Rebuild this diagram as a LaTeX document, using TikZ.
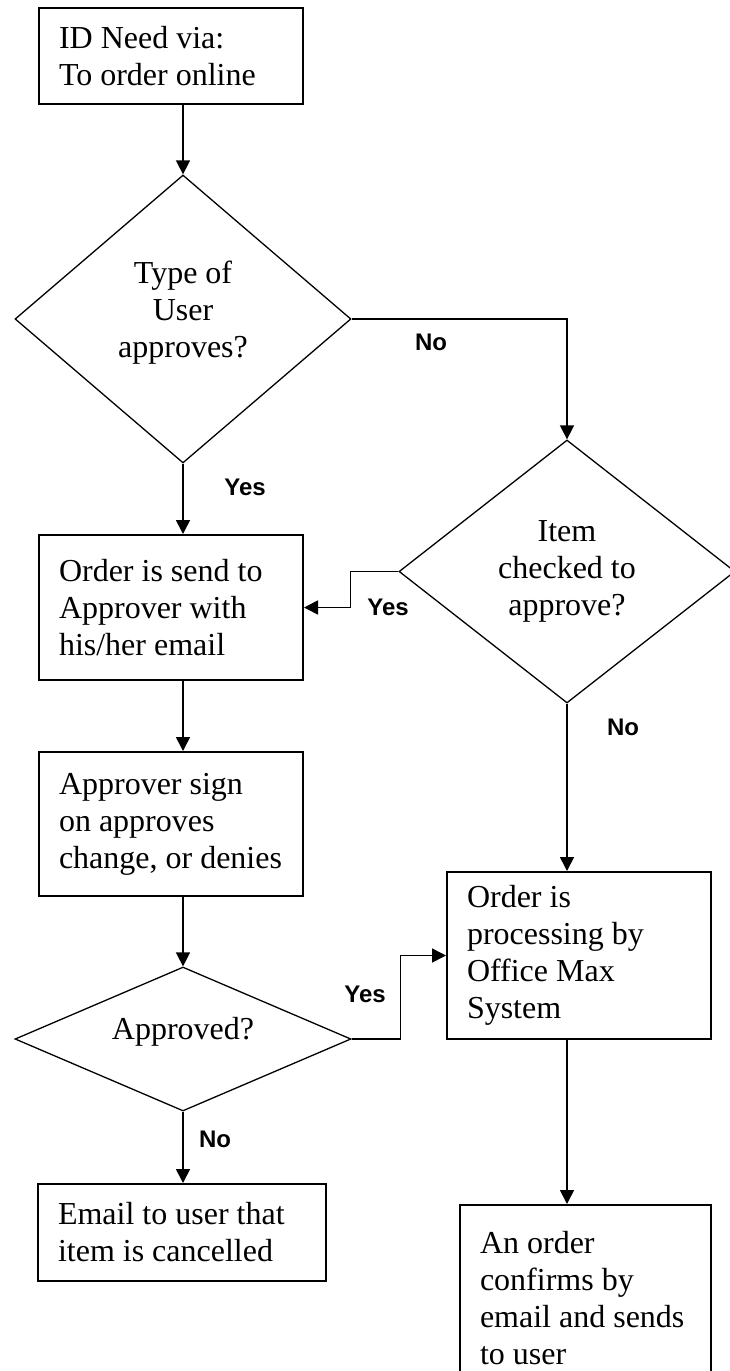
\documentclass[tikz,border=0pt]{standalone}
\usepackage{fontspec}
\setmainfont{Liberation Serif}
\newfontfamily\labelfont{Liberation Sans}
\usetikzlibrary{shapes.geometric,arrows.meta}
\begin{document}
\begin{tikzpicture}[x=1pt,y=-1pt,
  box/.style={draw,line width=2pt,inner sep=0pt,align=flush left,
    font=\fontsize{32}{37}\selectfont},
  decision/.style={draw,diamond,line width=1.3pt,inner sep=0pt,align=center,
    font=\fontsize{32}{37}\selectfont},
  arr/.style={line width=1.6pt,-{Triangle[length=14pt,width=14pt]}},
  tag/.style={font=\labelfont\bfseries\fontsize{24}{28}\selectfont,inner sep=0pt}]
\useasboundingbox (0,0) rectangle (730,1371);

% process boxes
\node[box,minimum width=264pt,minimum height=96pt,text width=224pt] (b1) at (171,56)
  {ID Need via:\\To order online};
\node[box,minimum width=264pt,minimum height=145pt,text width=224pt] (b2) at (171,607.5)
  {Order is send to\\Approver with\\his/her email};
\node[box,minimum width=264pt,minimum height=144pt,text width=224pt] (b3) at (171,824)
  {Approver sign\\on approves\\change, or denies};
\node[box,minimum width=264pt,minimum height=167pt,text width=224pt] (b4) at (579,955.5)
  {Order is\\processing by\\Office Max\\System};
\node[box,minimum width=288pt,minimum height=97pt,text width=248pt] (b5) at (182,1232.5)
  {Email to user that\\item is cancelled};
\node[box,minimum width=251pt,minimum height=186pt,text width=211pt] (b6) at (585.5,1298)
  {An order\\confirms by\\email and sends\\to user};

% decisions
\node[decision,minimum width=336pt,minimum height=288pt,aspect=1.167,text depth=19pt] (d1) at (183,319)
  {Type of\\User\\approves?};
\node[decision,minimum width=336pt,minimum height=263pt,aspect=1.278] (d2) at (567,571.5)
  {Item\\checked to\\approve?};
\node[decision,minimum width=336pt,minimum height=144pt,aspect=2.333,text depth=22pt] (d3) at (183,1039)
  {Approved?};

% connectors
\draw[arr] (d1.north |- b1.south) -- (d1.north);
\draw[arr] (d1.east) -| (d2.north);
\draw[arr] (d1.south) -- (d1.south |- b2.north);
\draw[arr] (d2.west) -- ++(-48,0) |- (b2.east);
\draw[arr] (d1.south |- b2.south) -- (d1.south |- b3.north);
\draw[arr] (d3.north |- b3.south) -- (d3.north);
\draw[arr] (d3.east) -- ++(49,0) |- (b4.west);
\draw[arr] (d2.south) -- (d2.south |- b4.north);
\draw[arr] (d3.south) -- (d3.south |- b5.north);
\draw[arr] (d2.south |- b4.south) -- (d2.south |- b6.north);

% branch labels
\node[tag] (lno1) at (431,342) {No};
\node[tag] (lyes1) at (245,487) {Yes};
\node[tag] (lyes2) at (388,607) {Yes};
\node[tag] (lno2) at (623,727) {No};
\node[tag] (lyes3) at (365,994) {Yes};
\node[tag] (lno3) at (215,1139) {No};
\end{tikzpicture}
\end{document}
